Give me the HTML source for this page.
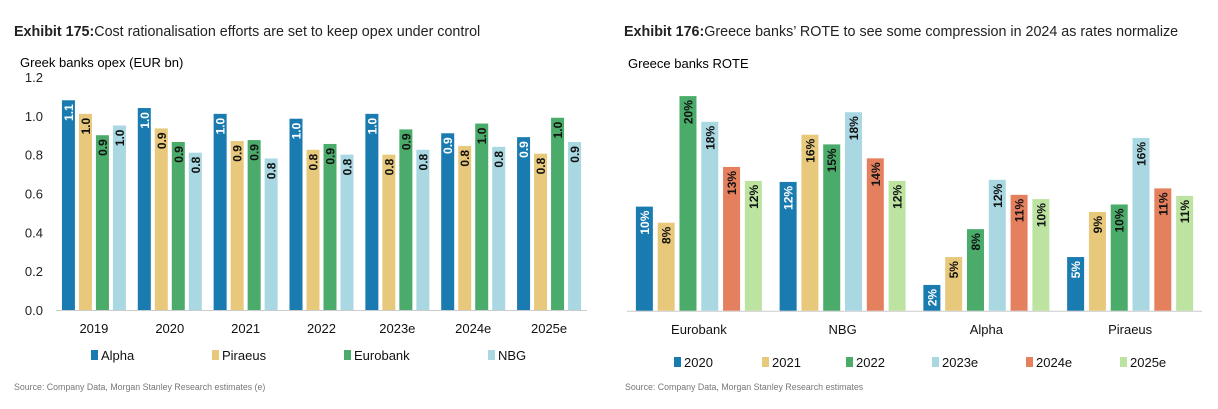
<!DOCTYPE html>
<html><head><meta charset="utf-8"><style>
body{margin:0;background:#fff;width:1218px;height:409px;overflow:hidden;font-family:"Liberation Sans",sans-serif}
svg{position:absolute;left:0;top:0}
</style></head><body>
<svg id="s" width="1218" height="409" font-family="Liberation Sans, sans-serif">
<text x="14" y="36" font-size="14.3" fill="#222"><tspan font-weight="bold">Exhibit 175:</tspan>Cost rationalisation efforts are set to keep opex under control</text>
<text x="624" y="36" font-size="14.3" fill="#222"><tspan font-weight="bold">Exhibit 176:</tspan>Greece banks’ ROTE to see some compression in 2024 as rates normalize</text>
<text x="20" y="67" font-size="13" fill="#000">Greek banks opex (EUR bn)</text>
<text x="628" y="68" font-size="13" fill="#000">Greece banks ROTE</text>
<text x="14" y="390" font-size="8.8" fill="#777">Source: Company Data, Morgan Stanley Research estimates (e)</text>
<text x="625" y="390" font-size="8.8" fill="#777">Source: Company Data, Morgan Stanley Research estimates</text>
<g id="L"></g><g id="R"></g>
</svg>
<script>
const opexYears=["2019","2020","2021","2022","2023e","2024e","2025e"];
const opexBanks=["Alpha","Piraeus","Eurobank","NBG"];
const opexAlpha=[1.08,1.04,1.01,0.985,1.01,0.91,0.89];
const opexPiraeus=[1.01,0.935,0.87,0.825,0.80,0.845,0.805];
const opexEurobank=[0.90,0.865,0.875,0.855,0.93,0.96,0.99];
const opexNBG=[0.95,0.81,0.78,0.80,0.825,0.84,0.865];
const opexLabels=[["1.1","1.0","1.0","1.0","1.0","0.9","0.9"],["1.0","0.9","0.9","0.8","0.8","0.8","0.8"],["0.9","0.9","0.9","0.9","0.9","1.0","1.0"],["1.0","0.8","0.8","0.8","0.8","0.8","0.9"]];
const opexTicks=[0,0.2,0.4,0.6,0.8,1.0,1.2];
const roteBanks=["Eurobank","NBG","Alpha","Piraeus"];
const roteYears=["2020","2021","2022","2023e","2024e","2025e"];
const rote2020=[9.7,12.0,2.4,5.0];
const rote2021=[8.2,16.4,5.0,9.2];
const rote2022=[20.0,15.5,7.6,9.9];
const rote2023=[17.6,18.5,12.2,16.1];
const rote2024=[13.4,14.2,10.8,11.4];
const rote2025=[12.1,12.1,10.4,10.7];
const roteLabels=[["10%","12%","2%","5%"],["8%","16%","5%","9%"],["20%","15%","8%","10%"],["18%","18%","12%","16%"],["13%","14%","11%","11%"],["12%","12%","10%","11%"]];

const NS="http://www.w3.org/2000/svg";
function mk(p,t,a){const e=document.createElementNS(NS,t);for(const k in a)e.setAttribute(k,a[k]);p.appendChild(e);return e;}
const L=document.getElementById('L'),R=document.getElementById('R');

const lx0=56,lx1=587,ly0=310,lpx=194.2;
const ly=v=>ly0-v*lpx;
const lcat=(lx1-lx0)/opexYears.length;
const lcol=["#1a7bb0","#e8c97c","#4aab6a","#a9d8e3"];
const lser=[opexAlpha,opexPiraeus,opexEurobank,opexNBG];
opexTicks.forEach(t=>{const e=mk(L,'text',{x:43,y:ly(t)+5,'text-anchor':'end','font-size':13,fill:'#222'});e.textContent=t.toFixed(1);

});
const la=mk(L,'line',{x1:lx0,x2:lx1,y1:ly0+0.5,y2:ly0+0.5,stroke:'#ccc','stroke-width':1});


const lbw=13,lstep=17;
opexYears.forEach((y,i)=>{const c=lx0+lcat*(i+0.5);
const t=mk(L,'text',{x:c,y:333,'text-anchor':'middle','font-size':13,fill:'#111'});t.textContent=y;


lser.forEach((s,j)=>{const x=c-2*lstep+j*lstep+(lstep-lbw)/2;const top=ly(s[i]);
const r=mk(L,'rect',{x:x,y:top,width:lbw,height:ly0-top,fill:lcol[j]});


const tx=x+lbw/2+4.5,ty=top+4;
const lb=mk(L,'text',{x:tx,y:ty,transform:`rotate(-90 ${tx} ${ty})`,'text-anchor':'end','font-size':12,'font-weight':'bold',fill:j==0?'#fff':'#111'});lb.textContent=opexLabels[j][i];

});});
const lleg=[91,212,344,488];
opexBanks.forEach((b,j)=>{const g=mk(L,'g',{});


mk(g,'rect',{x:lleg[j],y:350,width:7,height:10,fill:lcol[j]});
const t=mk(g,'text',{x:lleg[j]+10,y:360,'font-size':13,fill:'#111'});t.textContent=b;});

const rx0=627,rx1=1202,ry0=310.7,rpx=10.73;
const ry=v=>ry0-v*rpx;
const rcat=(rx1-rx0)/roteBanks.length;
const rcol=["#1a7bb0","#e8c97c","#4aab6a","#a9d8e3","#e5805f","#bde3a0"];
const rser=[rote2020,rote2021,rote2022,rote2023,rote2024,rote2025];
const ra=mk(R,'line',{x1:rx0,x2:rx1,y1:ry0+0.5,y2:ry0+0.5,stroke:'#ccc','stroke-width':1});


const rbw=17,rstep=21.8;
roteBanks.forEach((b,i)=>{const c=rx0+rcat*(i+0.5);
const t=mk(R,'text',{x:c,y:334,'text-anchor':'middle','font-size':13,fill:'#111'});t.textContent=b;


rser.forEach((s,j)=>{const x=c-3*rstep+j*rstep+(rstep-rbw)/2;const top=ry(s[i]);
const r=mk(R,'rect',{x:x,y:top,width:rbw,height:ry0-top,fill:rcol[j]});


const tx=x+rbw/2+4.5,ty=top+4;
const lb=mk(R,'text',{x:tx,y:ty,transform:`rotate(-90 ${tx} ${ty})`,'text-anchor':'end','font-size':12,'font-weight':'bold',fill:j==0?'#fff':'#111'});lb.textContent=roteLabels[j][i];

});});
const rleg=[674,762,846,932,1026,1120];
roteYears.forEach((y,j)=>{const g=mk(R,'g',{});


mk(g,'rect',{x:rleg[j],y:357,width:7,height:10,fill:rcol[j]});
const t=mk(g,'text',{x:rleg[j]+10,y:367,'font-size':13,fill:'#111'});t.textContent=y;});
</script>
</body></html>
